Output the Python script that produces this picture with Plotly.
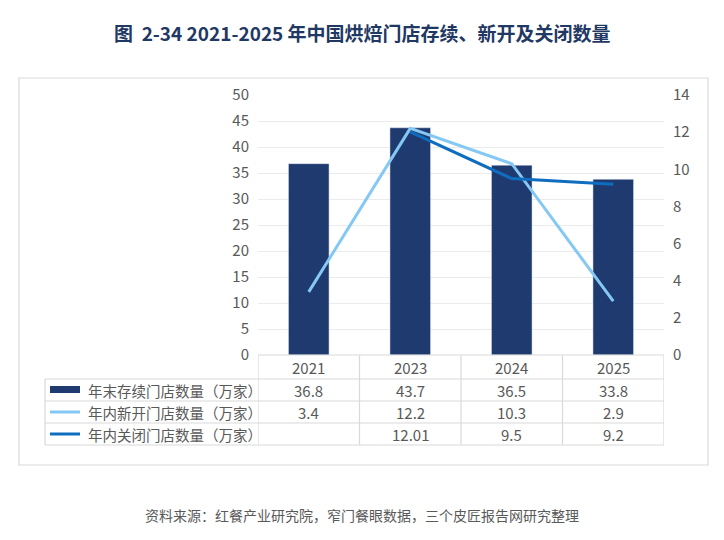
import plotly.graph_objects as go

# data
years = ['2021', '2023', '2024', '2025']
stock_stores = [36.8, 43.7, 36.5, 33.8]
new_stores = [3.4, 12.2, 10.3, 2.9]
closed_stores = [None, 12.01, 9.5, 9.2]
closed_labels = ['', '12.01', '9.5', '9.2']
series_names = ['年末存续门店数量（万家）', '年内新开门店数量（万家）', '年内关闭门店数量（万家）']

title_text = '图  2-34 2021-2025 年中国烘焙门店存续、新开及关闭数量'
source_text = '资料来源：红餐产业研究院，窄门餐眼数据，三个皮匠报告网研究整理'

BAR_COLOR = '#1f3a6e'
LIGHT_COLOR = '#85c8f4'
DARK_COLOR = '#0f6dbf'
GRID = '#d9d9d9'
TEXT = '#595959'
FONT = 'Noto Sans CJK SC'

# page body margin shifts the figure by 8px
OFF = 8
W, H = 716, 532
L, R, T, B = 250, 60, 87, 185
PW, PH = W - L - R, H - T - B


def px_x(x):
    """Screen pixel x -> paper x."""
    return (x - OFF - L) / PW


def px_y(y):
    """Screen pixel y -> paper y."""
    return (H - B - (y - OFF)) / PH


fig = go.Figure()
fig.add_trace(go.Bar(x=years, y=stock_stores, name=series_names[0],
                     marker_color=BAR_COLOR, width=0.4))
fig.add_trace(go.Scatter(x=years, y=new_stores, name=series_names[1], yaxis='y2',
                         mode='lines', line=dict(color=LIGHT_COLOR, width=3)))
fig.add_trace(go.Scatter(x=years, y=closed_stores, name=series_names[2], yaxis='y2',
                         mode='lines', line=dict(color=DARK_COLOR, width=3)))

shapes = []
annotations = []

# outer frame
shapes.append(dict(type='rect', xref='paper', yref='paper',
                   x0=px_x(19), x1=px_x(708), y0=px_y(465), y1=px_y(78),
                   line=dict(color=GRID, width=1.2), fillcolor='rgba(0,0,0,0)', layer='below'))

# data table lines
row_tops = [355, 379, 401, 423, 445]
shapes.append(dict(type='line', xref='x', yref='paper', x0=-0.5, x1=3.5,
                   y0=px_y(355), y1=px_y(355), line=dict(color=GRID, width=1.2)))
for y in row_tops[1:]:
    shapes.append(dict(type='line', xref='paper', yref='paper', x0=px_x(45), x1=1,
                       y0=px_y(y), y1=px_y(y), line=dict(color=GRID, width=1.2)))
shapes.append(dict(type='line', xref='paper', yref='paper', x0=px_x(45), x1=px_x(45),
                   y0=px_y(379), y1=px_y(445), line=dict(color=GRID, width=1.2)))
for i in range(len(years) + 1):
    shapes.append(dict(type='line', xref='x', yref='paper', x0=i - 0.5, x1=i - 0.5,
                       y0=px_y(355), y1=px_y(445), line=dict(color=GRID, width=1.2)))

# legend keys in the table
shapes.append(dict(type='rect', xref='paper', yref='paper', x0=px_x(50), x1=px_x(80),
                   y0=px_y(393), y1=px_y(386), fillcolor=BAR_COLOR, line=dict(width=0)))
shapes.append(dict(type='line', xref='paper', yref='paper', x0=px_x(50), x1=px_x(80),
                   y0=px_y(412), y1=px_y(412), line=dict(color=LIGHT_COLOR, width=3)))
shapes.append(dict(type='line', xref='paper', yref='paper', x0=px_x(50), x1=px_x(80),
                   y0=px_y(434), y1=px_y(434), line=dict(color=DARK_COLOR, width=3)))

row_centers = [390, 412, 434]
for name, yc in zip(series_names, row_centers):
    annotations.append(dict(text=name, xref='paper', yref='paper', x=px_x(86), y=px_y(yc),
                            xanchor='left', yanchor='middle', showarrow=False,
                            font=dict(size=14.5, color=TEXT, family=FONT)))

table_rows = [[f'{v:.1f}' for v in stock_stores],
              [f'{v:.1f}' for v in new_stores],
              closed_labels]
for i, yr in enumerate(years):
    annotations.append(dict(text=yr, xref='x', yref='paper', x=i, y=px_y(367),
                            xanchor='center', yanchor='middle', showarrow=False,
                            font=dict(size=15, color=TEXT, family=FONT)))
    for row, yc in zip(table_rows, row_centers):
        annotations.append(dict(text=row[i], xref='x', yref='paper', x=i, y=px_y(yc),
                                xanchor='center', yanchor='middle', showarrow=False,
                                font=dict(size=15, color=TEXT, family=FONT)))

# title and source
annotations.append(dict(text=f'<b>{title_text}</b>', xref='paper', yref='paper',
                        x=px_x(362), y=px_y(33), xanchor='center', yanchor='middle',
                        showarrow=False, font=dict(size=19, color='#1f3864', family=FONT)))
annotations.append(dict(text=source_text, xref='paper', yref='paper',
                        x=px_x(362), y=px_y(515), xanchor='center', yanchor='middle',
                        showarrow=False, font=dict(size=14, color=TEXT, family=FONT)))

fig.update_layout(
    width=W, height=H,
    margin=dict(l=L, r=R, t=T, b=B, pad=0),
    paper_bgcolor='white', plot_bgcolor='white',
    font=dict(family=FONT, color=TEXT),
    showlegend=False,
    bargap=0.6,
    shapes=shapes,
    annotations=annotations,
    xaxis=dict(type='category', range=[-0.5, 3.5], showticklabels=False,
               showgrid=False, zeroline=False, showline=False, ticks=''),
    yaxis=dict(range=[0, 50], dtick=5, showgrid=True, gridcolor='#ebebeb', gridwidth=1,
               zeroline=False, showline=False, ticks='', ticklabelstandoff=8,
               tickfont=dict(size=15, color=TEXT, family=FONT)),
    yaxis2=dict(range=[0, 14], dtick=2, overlaying='y', side='right', showgrid=False,
                zeroline=False, showline=False, ticks='', ticklabelstandoff=8,
                tickfont=dict(size=15, color=TEXT, family=FONT)),
)

fig.write_html('out.html')
